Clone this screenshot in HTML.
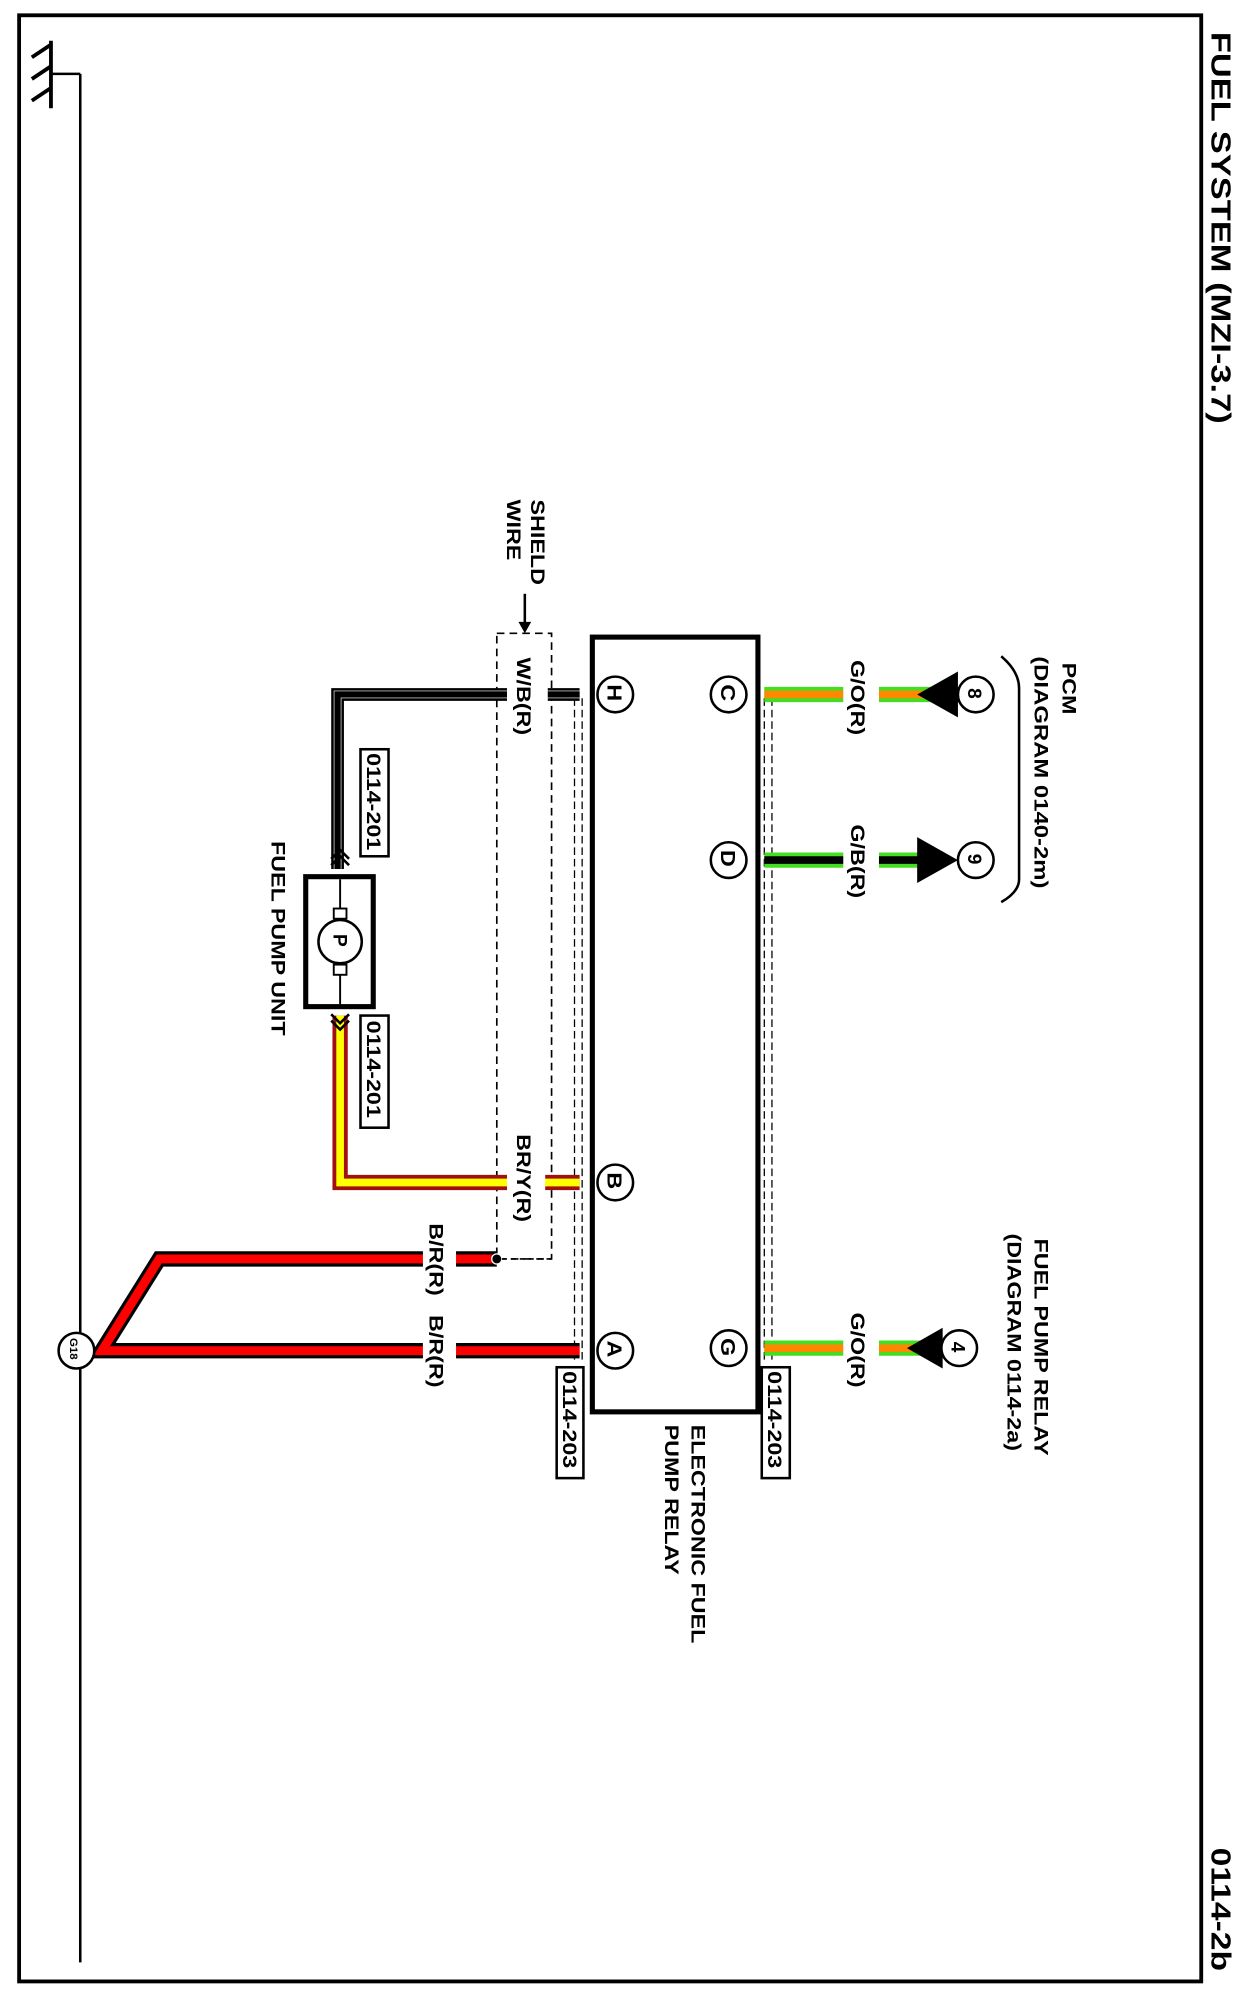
<!DOCTYPE html>
<html><head><meta charset="utf-8"><style>
html,body{margin:0;padding:0;background:#fff}
svg{display:block}
text{font-family:"Liberation Sans",Arial,sans-serif;font-weight:bold;fill:#000}
</style></head><body>
<svg width="1242" height="1998" viewBox="0 0 975 1568" preserveAspectRatio="none" xmlns="http://www.w3.org/2000/svg">
<rect x="15" y="12" width="928" height="1543" fill="none" stroke="#000" stroke-width="3"/>
<!-- ground -->
<line x1="63" y1="58" x2="63" y2="1540" stroke="#000" stroke-width="2"/>
<line x1="40" y1="58" x2="63" y2="58" stroke="#000" stroke-width="2"/>
<line x1="40" y1="32" x2="40" y2="85" stroke="#000" stroke-width="3"/>
<line x1="25" y1="45" x2="40" y2="35" stroke="#000" stroke-width="3"/>
<line x1="25" y1="62" x2="40" y2="52" stroke="#000" stroke-width="3"/>
<line x1="25" y1="79" x2="40" y2="69" stroke="#000" stroke-width="3"/>
<!-- title -->
<text transform="translate(951,25) rotate(90) scale(1.23,1)" font-size="22" font-weight="normal">FUEL SYSTEM (MZI-3.7)</text>
<text transform="translate(951,1450) rotate(90) scale(1.2,1)" font-size="22" font-weight="normal">0114-2b</text>
<!-- shield dashed box -->
<rect x="390" y="497" width="43" height="491" fill="none" stroke="#000" stroke-width="1.3" stroke-dasharray="6,4"/>
<text transform="translate(417,392) rotate(90) scale(1.22,1)" font-size="15">SHIELD</text>
<text transform="translate(398,392) rotate(90) scale(1.22,1)" font-size="15">WIRE</text>
<line x1="412" y1="466" x2="412" y2="490" stroke="#000" stroke-width="2"/>
<polygon points="407,488 417,488 412,497" fill="#000"/>
<!-- dashed harness lines -->
<g stroke="#000" stroke-width="1" stroke-dasharray="6,3">
<line x1="451" y1="548" x2="451" y2="1070"/><line x1="457" y1="548" x2="457" y2="1070"/>
<line x1="600" y1="548" x2="600" y2="1070"/><line x1="606" y1="548" x2="606" y2="1070"/>
</g>
<!-- W/B wire -->
<path d="M455,545 H265 V682" fill="none" stroke="#000" stroke-width="10"/>
<path d="M455,545 H265 V682" fill="none" stroke="#fff" stroke-width="6"/>
<path d="M455,545 H265 V682" fill="none" stroke="#000" stroke-width="5"/>
<rect x="398" y="522" width="32" height="58" fill="#fff"/>
<text transform="translate(406,516) rotate(90) scale(1.22,1)" font-size="15">W/B(R)</text>
<!-- BR/Y wire -->
<path d="M267,797 V928 H455" fill="none" stroke="#a01010" stroke-width="12"/>
<path d="M267,797 V928 H455" fill="none" stroke="#ffff00" stroke-width="6"/>
<rect x="398" y="895" width="30" height="66" fill="#fff"/>
<text transform="translate(406,890) rotate(90) scale(1.22,1)" font-size="15">BR/Y(R)</text>
<!-- Red wires -->
<path d="M455,1060 H80 L125,988 H390" fill="none" stroke="#000" stroke-width="12"/>
<path d="M455,1060 H80 L125,988 H390" fill="none" stroke="#f00" stroke-width="7"/>
<circle cx="390" cy="988" r="4" fill="#000" stroke="#fff" stroke-width="1"/>
<line x1="394" y1="988" x2="433" y2="988" stroke="#000" stroke-width="1.3" stroke-dasharray="4,3"/>
<rect x="332" y="962" width="26" height="62" fill="#fff"/>
<rect x="332" y="1032" width="26" height="62" fill="#fff"/>
<text transform="translate(337,960) rotate(90) scale(1.22,1)" font-size="15">B/R(R)</text>
<text transform="translate(337,1032) rotate(90) scale(1.22,1)" font-size="15">B/R(R)</text>
<circle cx="60" cy="1060" r="14" fill="#fff" stroke="#000" stroke-width="2"/>
<text transform="translate(55,1050) rotate(90)" font-size="9">G18</text>
<!-- fuel pump unit -->
<rect x="240" y="688" width="53" height="102" fill="none" stroke="#000" stroke-width="4"/>
<line x1="267" y1="690" x2="267" y2="788" stroke="#000" stroke-width="1.5"/>
<rect x="262" y="713" width="10" height="8" fill="#fff" stroke="#000" stroke-width="1.5"/>
<rect x="262" y="757" width="10" height="8" fill="#fff" stroke="#000" stroke-width="1.5"/>
<circle cx="267" cy="739" r="17" fill="#fff" stroke="#000" stroke-width="2"/>
<text transform="translate(262,733) rotate(90)" font-size="15" font-weight="normal">P</text>
<text transform="translate(213,660) rotate(90) scale(1.22,1)" font-size="15">FUEL PUMP UNIT</text>
<rect x="283" y="588" width="22" height="84" fill="#fff" stroke="#000" stroke-width="2"/>
<text transform="translate(288,591) rotate(90) scale(1.22,1)" font-size="15">0114-201</text>
<rect x="283" y="797" width="22" height="88" fill="#fff" stroke="#000" stroke-width="2"/>
<text transform="translate(288,801) rotate(90) scale(1.22,1)" font-size="15">0114-201</text>
<g fill="none" stroke="#000" stroke-width="2">
<path d="M260,674 L267,667 L274,674 M260,679 L267,672 L274,679"/>
<path d="M260,796 L267,803 L274,796 M260,801 L267,808 L274,801"/>
</g>
<!-- relay box -->
<rect x="465" y="500" width="130" height="608" fill="none" stroke="#000" stroke-width="4"/>
<g fill="#fff" stroke="#000" stroke-width="2">
<circle cx="483" cy="545" r="14"/><circle cx="572" cy="545" r="14"/><circle cx="572" cy="675" r="14"/>
<circle cx="483" cy="928" r="14"/><circle cx="483" cy="1060" r="14"/><circle cx="572" cy="1058" r="14"/>
</g>
<g font-size="16" font-weight="normal">
<text transform="translate(477,537) rotate(90) scale(1.15,1)">H</text>
<text transform="translate(566,537) rotate(90) scale(1.15,1)">C</text>
<text transform="translate(566,667) rotate(90) scale(1.15,1)">D</text>
<text transform="translate(477,920) rotate(90) scale(1.15,1)">B</text>
<text transform="translate(477,1052) rotate(90) scale(1.15,1)">A</text>
<text transform="translate(566,1050) rotate(90) scale(1.15,1)">G</text>
</g>
<text transform="translate(543,1118) rotate(90) scale(1.22,1)" font-size="15">ELECTRONIC FUEL</text>
<text transform="translate(522,1118) rotate(90) scale(1.22,1)" font-size="15">PUMP RELAY</text>
<rect x="437" y="1073" width="21" height="87" fill="#fff" stroke="#000" stroke-width="2"/>
<text transform="translate(442,1076) rotate(90) scale(1.22,1)" font-size="15">0114-203</text>
<rect x="598" y="1073" width="22" height="87" fill="#fff" stroke="#000" stroke-width="2"/>
<text transform="translate(603,1076) rotate(90) scale(1.22,1)" font-size="15">0114-203</text>
<!-- right wires -->
<line x1="600" y1="545" x2="735" y2="545" stroke="#44dd22" stroke-width="12"/>
<line x1="600" y1="545" x2="735" y2="545" stroke="#ff8800" stroke-width="6"/>
<line x1="600" y1="675" x2="725" y2="675" stroke="#44dd22" stroke-width="12"/>
<line x1="600" y1="675" x2="725" y2="675" stroke="#000" stroke-width="6"/>
<line x1="600" y1="1058" x2="725" y2="1058" stroke="#44dd22" stroke-width="12"/>
<line x1="600" y1="1058" x2="725" y2="1058" stroke="#ff8800" stroke-width="6"/>
<rect x="662" y="514" width="28" height="66" fill="#fff"/>
<rect x="662" y="643" width="28" height="66" fill="#fff"/>
<rect x="662" y="1026" width="28" height="66" fill="#fff"/>
<text transform="translate(668,518) rotate(90) scale(1.22,1)" font-size="15">G/O(R)</text>
<text transform="translate(668,647) rotate(90) scale(1.22,1)" font-size="15">G/B(R)</text>
<text transform="translate(668,1030) rotate(90) scale(1.22,1)" font-size="15">G/O(R)</text>
<polygon points="720,545 752,527 752,563" fill="#000"/>
<polygon points="752,675 720,657 720,693" fill="#000"/>
<polygon points="712,1058 740,1042 740,1074" fill="#000"/>
<g fill="#fff" stroke="#000" stroke-width="2">
<circle cx="766" cy="545" r="14"/><circle cx="766" cy="675" r="14"/><circle cx="753" cy="1058" r="14"/>
</g>
<g font-size="15" font-weight="normal">
<text transform="translate(760,540) rotate(90)">8</text>
<text transform="translate(760,670) rotate(90)">9</text>
<text transform="translate(747,1053) rotate(90)">4</text>
</g>
<!-- PCM bracket -->
<path d="M786,515 Q800,527 800,540 V690 Q800,700 786,708" fill="none" stroke="#000" stroke-width="2"/>
<text transform="translate(834,520) rotate(90) scale(1.22,1)" font-size="15">PCM</text>
<text transform="translate(812,515) rotate(90) scale(1.25,1)" font-size="15">(DIAGRAM 0140-2m)</text>
<text transform="translate(812,972) rotate(90) scale(1.22,1)" font-size="15">FUEL PUMP RELAY</text>
<text transform="translate(791,968) rotate(90) scale(1.22,1)" font-size="15">(DIAGRAM 0114-2a)</text>
</svg>
</body></html>
